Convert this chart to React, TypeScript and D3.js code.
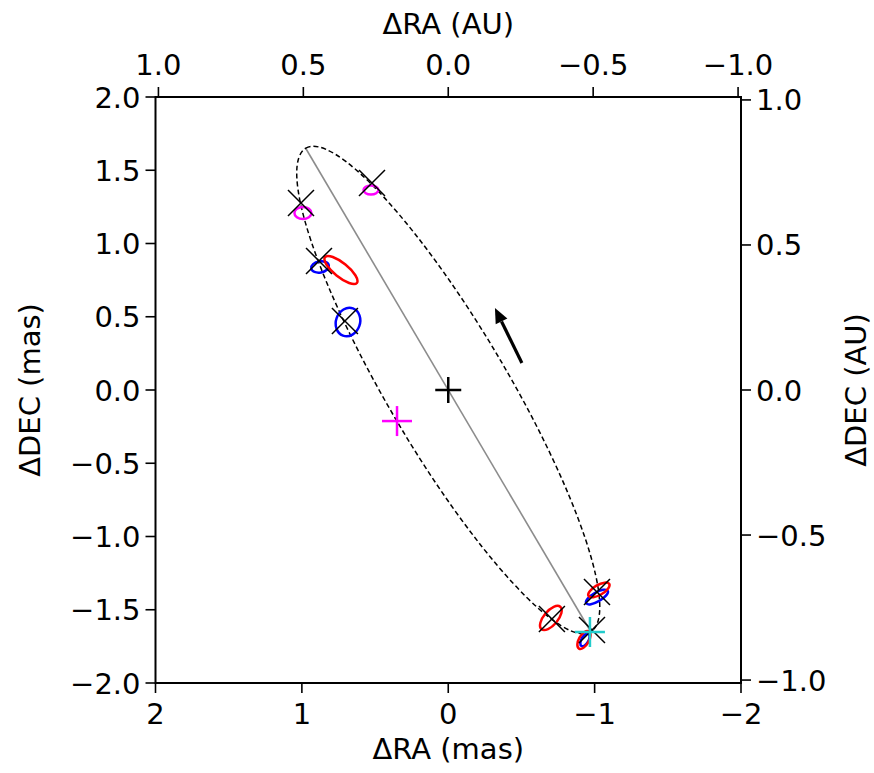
import React from "react";
import * as d3 from "d3";

// ---- data (mas unless noted) ----
const xTicksMas = [2, 1, 0, -1, -2];
const yTicksMas = [2.0, 1.5, 1.0, 0.5, 0.0, -0.5, -1.0, -1.5, -2.0];
const ticksAU = [1.0, 0.5, 0.0, -0.5, -1.0];
const MAS_PER_AU = 1.98;

// orbit ellipse: centre, semi-axes (mas), position angle of major axis (deg E of N)
const orbitCenter = [0, 0];
const orbitA = 1.917;
const orbitB = 0.41;
const orbitPA = 30.5;

// line of apsides endpoints
const axisLine = [
  [0.975, 1.652],
  [-0.975, -1.652],
];

// model positions (x markers)
const modelRA = [1.006, 0.521, 0.883, 0.706, -1.016, -0.708, -0.982];
const modelDEC = [1.276, 1.413, 0.881, 0.471, -1.379, -1.563, -1.638];

// error ellipses: ra, dec, semi-major, semi-minor, PA, series
const ellRA = [0.993, 0.528, 0.876, 0.685, -1.016, -0.934, 0.733, -0.701, -1.029, -0.927];
const ellDEC = [1.208, 1.365, 0.840, 0.464, -1.413, -1.706, 0.819, -1.556, -1.365, -1.706];
const ellMaj = [0.058, 0.051, 0.061, 0.099, 0.085, 0.048, 0.14, 0.10, 0.082, 0.068];
const ellMin = [0.041, 0.031, 0.038, 0.082, 0.031, 0.024, 0.048, 0.048, 0.034, 0.034];
const ellPA = [90, 90, 100, 340, 300, 330, 51, 320, 300, 330];
const ellSeries = ["m", "m", "b", "b", "b", "b", "r", "r", "r", "r"];

// crosses
const originPoint = [0, 0];
const magentaPoint = [0.35, -0.212];
const cyanPoint = [-0.968, -1.652];

// motion arrow (tail -> tip)
const arrowTail = [-0.503, 0.184];
const arrowTip = [-0.319, 0.56];

const seriesColor: Record<string, string> = { m: "#ff00ff", b: "#0000ff", r: "#ff0000" };

const W = 874;
const H = 773;
const L = 155.5, R = 741, T = 97, B = 683;

const fmt = (v: number, d: number) => (v < 0 ? "\u2212" : "") + Math.abs(v).toFixed(d);

export default function App() {
  const x = d3.scaleLinear().domain([2, -2]).range([L, R]);
  const y = d3.scaleLinear().domain([2, -2]).range([T, B]);
  const pxPerMasX = Math.abs(x(1) - x(0));
  const pxPerMasY = Math.abs(y(1) - y(0));
  const xAU = (v: number) => x(v * MAS_PER_AU);
  const yAU = (v: number) => y(v * MAS_PER_AU);

  const font = "DejaVu Sans, sans-serif";
  const fs = 29;
  const tl = 10;

  const rot = (pa: number) => {
    const r = (pa * Math.PI) / 180;
    return (Math.atan2(-Math.cos(r), -Math.sin(r)) * 180) / Math.PI;
  };

  const plus = (p: number[], s: number, color: string, w: number, key: string) => (
    <g key={key} stroke={color} strokeWidth={w}>
      <line x1={x(p[0]) - s} x2={x(p[0]) + s} y1={y(p[1])} y2={y(p[1])} />
      <line x1={x(p[0])} x2={x(p[0])} y1={y(p[1]) - s} y2={y(p[1]) + s} />
    </g>
  );

  // arrow geometry
  const tx = x(arrowTail[0]), ty = y(arrowTail[1]);
  const hx = x(arrowTip[0]), hy = y(arrowTip[1]);
  const dx = hx - tx, dy = hy - ty;
  const len = Math.hypot(dx, dy);
  const ux = dx / len, uy = dy / len;
  const headL = 15, headW = 6.5;
  const bx = hx - ux * headL, by = hy - uy * headL;
  const headPts = [
    [hx, hy],
    [bx - uy * headW, by + ux * headW],
    [bx + uy * headW, by - ux * headW],
  ];

  return (
    <svg width={W} height={H} style={{ position: "absolute", left: 0, top: 0, background: "#fff" }} fontFamily={font}>
      <rect x={0} y={0} width={W} height={H} fill="#fff" />
      {/* orbit */}
      <line
        x1={x(axisLine[0][0])} y1={y(axisLine[0][1])}
        x2={x(axisLine[1][0])} y2={y(axisLine[1][1])}
        stroke="#8c8c8c" strokeWidth={1.6}
      />
      <ellipse
        cx={x(orbitCenter[0])} cy={y(orbitCenter[1])}
        rx={orbitA * pxPerMasX} ry={orbitB * pxPerMasY}
        transform={`rotate(${rot(orbitPA)} ${x(orbitCenter[0])} ${y(orbitCenter[1])})`}
        fill="none" stroke="#000" strokeWidth={1.5} strokeDasharray="5,3"
      />
      {/* error ellipses */}
      {ellRA.map((ra, i) => {
        const cx = x(ra), cy = y(ellDEC[i]);
        return (
          <ellipse key={"e" + i} cx={cx} cy={cy}
            rx={ellMaj[i] * pxPerMasX} ry={ellMin[i] * pxPerMasY}
            transform={`rotate(${rot(ellPA[i])} ${cx} ${cy})`}
            fill="none" stroke={seriesColor[ellSeries[i]]} strokeWidth={2.5} />
        );
      })}
      {/* model positions */}
      {modelRA.map((ra, i) => {
        const cx = x(ra), cy = y(modelDEC[i]), s = 13;
        return (
          <g key={"x" + i} stroke="#000" strokeWidth={1.5}>
            <line x1={cx - s} y1={cy - s} x2={cx + s} y2={cy + s} />
            <line x1={cx - s} y1={cy + s} x2={cx + s} y2={cy - s} />
          </g>
        );
      })}
      {plus(originPoint, 13, "#000", 2.5, "o")}
      {plus(magentaPoint, 15, "#ff00ff", 2.5, "m")}
      {plus(cyanPoint, 15, "#22cccc", 2.5, "c")}
      {/* arrow */}
      <line x1={tx} y1={ty} x2={bx} y2={by} stroke="#000" strokeWidth={3.2} />
      <polygon points={headPts.map((p) => p.join(",")).join(" ")} fill="#000" />

      {/* frame */}
      <rect x={L} y={T} width={R - L} height={B - T} fill="none" stroke="#000" strokeWidth={2} />

      {/* bottom axis */}
      {xTicksMas.map((v) => (
        <g key={"bx" + v}>
          <line x1={x(v)} x2={x(v)} y1={B} y2={B + tl} stroke="#000" strokeWidth={1.6} />
          <text x={x(v)} y={B + 41} textAnchor="middle" fontSize={fs}>{fmt(v, 0)}</text>
        </g>
      ))}
      {/* left axis */}
      {yTicksMas.map((v) => (
        <g key={"ly" + v}>
          <line x1={L - tl} x2={L} y1={y(v)} y2={y(v)} stroke="#000" strokeWidth={1.6} />
          <text x={L - 15} y={y(v) + 10.5} textAnchor="end" fontSize={fs}>{fmt(v, 1)}</text>
        </g>
      ))}
      {/* top axis */}
      {ticksAU.map((v) => (
        <g key={"tx" + v}>
          <line x1={xAU(v)} x2={xAU(v)} y1={T - tl} y2={T} stroke="#000" strokeWidth={1.6} />
          <text x={xAU(v)} y={T - 22} textAnchor="middle" fontSize={fs}>{fmt(v, 1)}</text>
        </g>
      ))}
      {/* right axis */}
      {ticksAU.map((v) => (
        <g key={"ry" + v}>
          <line x1={R} x2={R + tl} y1={yAU(v)} y2={yAU(v)} stroke="#000" strokeWidth={1.6} />
          <text x={R + 15} y={yAU(v) + 10.5} textAnchor="start" fontSize={fs}>{fmt(v, 1)}</text>
        </g>
      ))}

      {/* labels */}
      <text x={(L + R) / 2} y={B + 76} textAnchor="middle" fontSize={fs}>ΔRA (mas)</text>
      <text x={(L + R) / 2} y={34} textAnchor="middle" fontSize={fs}>ΔRA (AU)</text>
      <text transform={`translate(40 ${(T + B) / 2}) rotate(-90)`} textAnchor="middle" fontSize={fs}>ΔDEC (mas)</text>
      <text transform={`translate(866 ${(T + B) / 2}) rotate(-90)`} textAnchor="middle" fontSize={fs}>ΔDEC (AU)</text>
    </svg>
  );
}
